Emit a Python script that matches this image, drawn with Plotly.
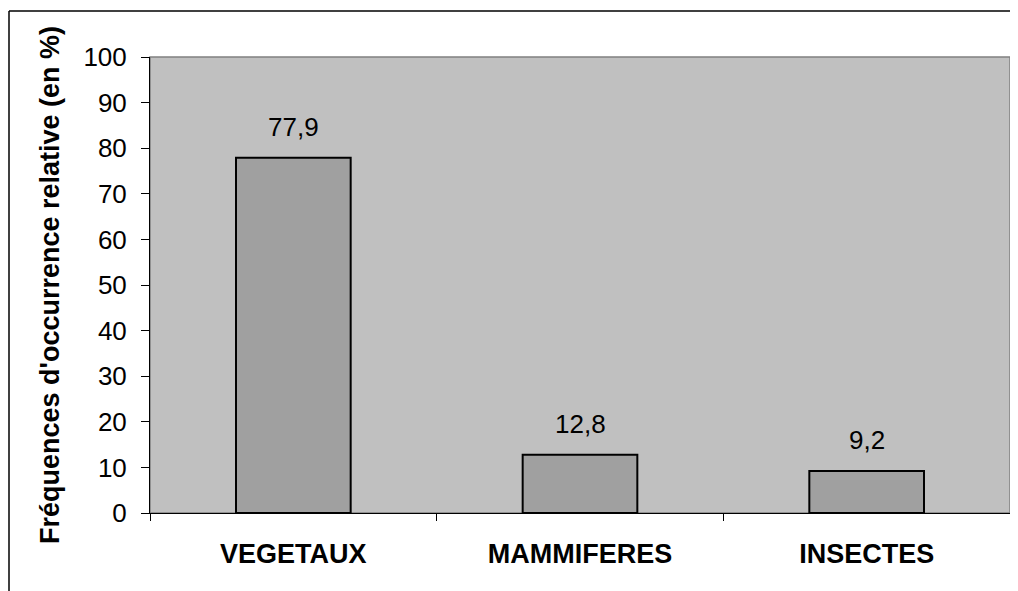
import plotly.graph_objects as go

# categories and relative occurrence frequencies (%)
categories = ["VEGETAUX", "MAMMIFERES", "INSECTES"]
values = [77.9, 12.8, 9.2]
y_ticks = [0, 10, 20, 30, 40, 50, 60, 70, 80, 90, 100]

FONT = "Liberation Sans, Arial"

fig = go.Figure()
fig.add_trace(go.Bar(
    x=categories,
    y=values,
    width=0.4,
    marker=dict(color="#A0A0A0", line=dict(color="black", width=2)),
))

for cat, v in zip(categories, values):
    fig.add_annotation(
        x=cat, y=v, text=f"{v:.1f}".replace(".", ","),
        showarrow=False, yanchor="bottom", yshift=14,
        font=dict(family=FONT, size=26, color="black"),
    )

# page body adds 8px, so the figure is 8px smaller than the window
W, H = 1010, 583
ML, MR, MT, MB = 142, 8, 49, 78
pw, ph = W - ML - MR, H - MT - MB
fx = (1 - ML) / pw
fy = 1 + (MT - 3) / ph

# outer frame (only its top and left edges are visible)
fig.add_shape(type="line", xref="paper", yref="paper",
              x0=fx, x1=1.2, y0=fy, y1=fy,
              line=dict(color="black", width=1.5))
fig.add_shape(type="line", xref="paper", yref="paper",
              x0=fx, x1=fx, y0=-0.5, y1=fy,
              line=dict(color="black", width=1.5))

# grey frame around the plot area
fig.add_shape(type="rect", xref="paper", yref="paper", x0=0, x1=1, y0=0, y1=1,
              line=dict(color="#808080", width=1.5), layer="below")

fig.update_layout(
    width=W, height=H,
    margin=dict(l=ML, r=MR, t=MT, b=MB),
    paper_bgcolor="white",
    plot_bgcolor="#C0C0C0",
    showlegend=False,
    font=dict(family=FONT, size=26, color="black"),
    xaxis=dict(
        showline=True, linecolor="black", linewidth=1,
        ticks="outside", ticklen=7, tickcolor="black",
        tickson="boundaries",
        tickfont=dict(size=27, family=FONT, weight="bold"),
        ticklabelstandoff=17,
    ),
    yaxis=dict(
        range=[0, 100], tickvals=y_ticks,
        showgrid=False, zeroline=False,
        showline=True, linecolor="black", linewidth=1,
        ticks="outside", ticklen=8, tickcolor="black",
        tickfont=dict(size=26),
        ticklabelstandoff=9,
        title=dict(text="Fréquences d'occurrence relative (en %)",
                   font=dict(size=27, weight="bold"), standoff=15),
    ),
)

fig.write_html("out.html")
